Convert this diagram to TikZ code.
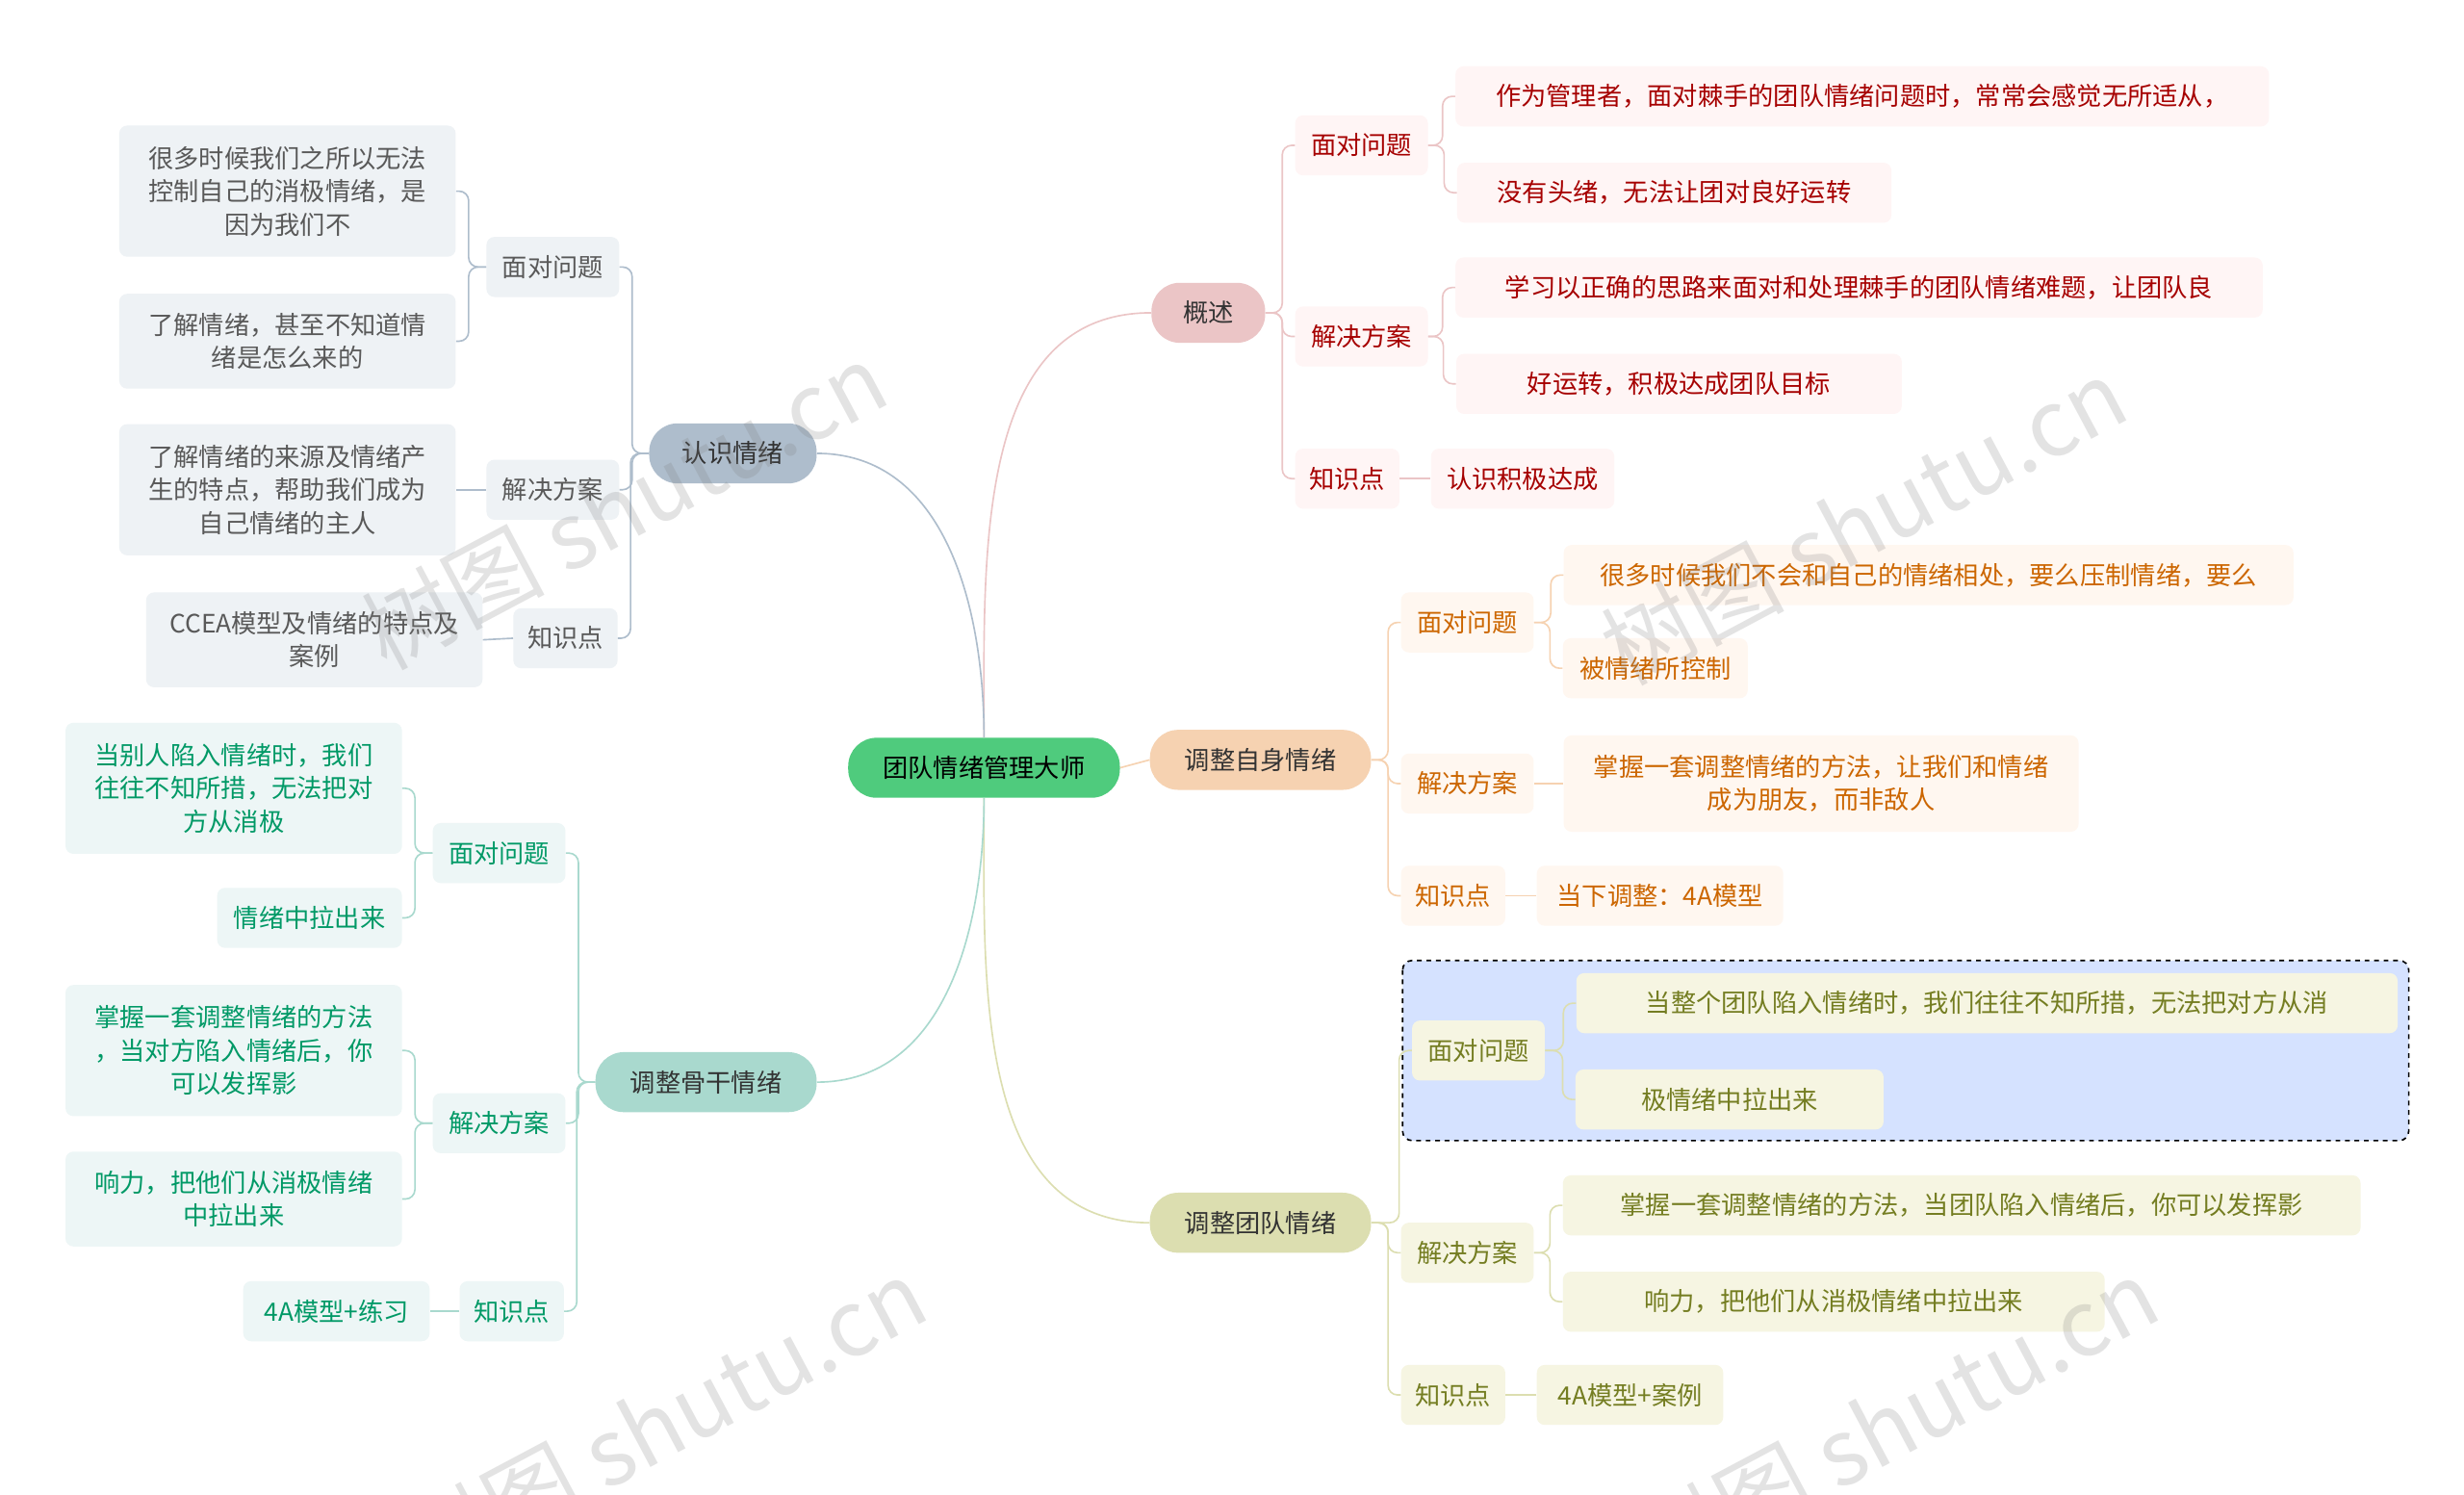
\documentclass[tikz,border=0pt]{standalone}
\usepackage{fontspec}
\setmainfont{Noto Sans CJK SC}
\definecolor{gM}{HTML}{4FCB7D}
\definecolor{rM}{HTML}{EBC5C6}
\definecolor{oM}{HTML}{F6D2B1}
\definecolor{yM}{HTML}{DCDEB0}
\definecolor{bM}{HTML}{AEBDCC}
\definecolor{tM}{HTML}{A9D9CE}
\definecolor{dashF}{HTML}{D5E2FF}
\begin{document}
\begin{tikzpicture}[x=1pt,y=-1pt,
 every node/.style={font=\fontsize{16}{21}\selectfont,inner sep=0pt,align=center,rounded corners=5},
 bx/.style={minimum width=#1},
 mainG/.style={fill=gM,rounded corners=18,minimum height=38},
 mR/.style={fill=rM,rounded corners=18,minimum height=38,text=black!80},
 mO/.style={fill=oM,rounded corners=18,minimum height=38,text=black!80},
 mY/.style={fill=yM,rounded corners=18,minimum height=38,text=black!80},
 mB/.style={fill=bM,rounded corners=18,minimum height=38,text=black!80},
 mT/.style={fill=tM,rounded corners=18,minimum height=38,text=black!80},
 sR/.style={fill=red!4,text=red!65!black,minimum height=38},
 sO/.style={fill=orange!6,text=orange!80!black,minimum height=38},
 sY/.style={fill=olive!8,text=olive!80!green!80!black,minimum height=38},
 sB/.style={fill={rgb,255:red,238;green,242;blue,245},text=black!65,minimum height=38},
 sT/.style={fill=teal!7,text=teal!80!green,minimum height=38},
 cR/.style={draw=rM,line width=1pt,rounded corners=6},
 cO/.style={draw=oM,line width=1pt,rounded corners=6},
 cY/.style={draw=yM,line width=1pt,rounded corners=6},
 cB/.style={draw=bM,line width=1pt,rounded corners=6},
 cT/.style={draw=tM,line width=1pt,rounded corners=6},
]
\useasboundingbox[fill=white] (0,0) rectangle (1560,946);
\draw[dashed,line width=1pt,fill=dashF,rounded corners=6] (888,608) rectangle (1525,722);

\node[mainG,bx=172] (c) at (623,486) {团队情绪管理大师};
% right
\node[mR,bx=72] (m1) at (765,198) {概述};
\node[sR,bx=84] (m1a) at (862,92) {面对问题};
\node[sR,bx=84] (m1b) at (862,213) {解决方案};
\node[sR,bx=66] (m1c) at (853,303) {知识点};
\node[sR,bx=515] (l1) at (1179,61) {作为管理者，面对棘手的团队情绪问题时，常常会感觉无所适从，};
\node[sR,bx=275] (l2) at (1060,122) {没有头绪，无法让团对良好运转};
\node[sR,bx=511] (l3) at (1177,182) {学习以正确的思路来面对和处理棘手的团队情绪难题，让团队良};
\node[sR,bx=282] (l4) at (1063,243) {好运转，积极达成团队目标};
\node[sR,bx=116] (l5) at (964,303) {认识积极达成};

\node[mO,bx=140] (m2) at (798,481) {调整自身情绪};
\node[sO,bx=84] (m2a) at (929,394) {面对问题};
\node[sO,bx=84] (m2b) at (929,496) {解决方案};
\node[sO,bx=66] (m2c) at (920,567) {知识点};
\node[sO,bx=462] (o1) at (1221,364) {很多时候我们不会和自己的情绪相处，要么压制情绪，要么};
\node[sO,bx=117] (o2) at (1048,423) {被情绪所控制};
\node[sO,bx=326,minimum height=61] (o3) at (1153,496) {掌握一套调整情绪的方法，让我们和情绪\\成为朋友，而非敌人};
\node[sO,bx=156] (o4) at (1051,567) {当下调整：4A模型};

\node[mY,bx=140] (m3) at (798,774) {调整团队情绪};
\node[sY,bx=84] (m3a) at (936,665) {面对问题};
\node[sY,bx=84] (m3b) at (929,793) {解决方案};
\node[sY,bx=66] (m3c) at (920,883) {知识点};
\node[sY,bx=520] (y1) at (1258,635) {当整个团队陷入情绪时，我们往往不知所措，无法把对方从消};
\node[sY,bx=195] (y2) at (1095,696) {极情绪中拉出来};
\node[sY,bx=505] (y3) at (1242,763) {掌握一套调整情绪的方法，当团队陷入情绪后，你可以发挥影};
\node[sY,bx=343] (y4) at (1161,824) {响力，把他们从消极情绪中拉出来};
\node[sY,bx=118] (y5) at (1032,883) {4A模型+案例};
% left
\node[mB,bx=106] (m4) at (464,287) {认识情绪};
\node[sB,bx=84] (m4a) at (350,169) {面对问题};
\node[sB,bx=84] (m4b) at (350,310) {解决方案};
\node[sB,bx=66] (m4c) at (358,404) {知识点};
\node[sB,bx=213,minimum height=83] (b1) at (182,121) {很多时候我们之所以无法\\控制自己的消极情绪，是\\因为我们不};
\node[sB,bx=213,minimum height=60] (b2) at (182,216) {了解情绪，甚至不知道情\\绪是怎么来的};
\node[sB,bx=213,minimum height=83] (b3) at (182,310) {了解情绪的来源及情绪产\\生的特点，帮助我们成为\\自己情绪的主人};
\node[sB,bx=213,minimum height=60] (b4) at (199,405) {CCEA模型及情绪的特点及\\案例};

\node[mT,bx=140] (m5) at (447,685) {调整骨干情绪};
\node[sT,bx=84] (m5a) at (316,540) {面对问题};
\node[sT,bx=84] (m5b) at (316,711) {解决方案};
\node[sT,bx=66] (m5c) at (324,830) {知识点};
\node[sT,bx=213,minimum height=83] (t1) at (148,499) {当别人陷入情绪时，我们\\往往不知所措，无法把对\\方从消极};
\node[sT,bx=117] (t2) at (196,581) {情绪中拉出来};
\node[sT,bx=213,minimum height=83] (t3) at (148,665) {掌握一套调整情绪的方法\\，当对方陷入情绪后，你\\可以发挥影};
\node[sT,bx=213,minimum height=60] (t4) at (148,759) {响力，把他们从消极情绪\\中拉出来};
\node[sT,bx=118] (t5) at (213,830) {4A模型+练习};

% center connectors
\draw[cR] (c.north) to[out=90,in=180] (m1.west);
\draw[cO] (c.east) -- (m2.west);
\draw[cY] (c.south) to[out=-90,in=180] (m3.west);
\draw[cB] (c.north) to[out=90,in=0] (m4.east);
\draw[cT] (c.south) to[out=-90,in=0] (m5.east);
% right brackets
\foreach \p/\k/\s in {m1/m1a/cR,m1/m1b/cR,m1/m1c/cR,m1a/l1/cR,m1a/l2/cR,m1b/l3/cR,m1b/l4/cR,
  m2/m2a/cO,m2/m2b/cO,m2/m2c/cO,m2a/o1/cO,m2a/o2/cO,
  m3/m3a/cY,m3/m3b/cY,m3/m3c/cY,m3a/y1/cY,m3a/y2/cY,m3b/y3/cY,m3b/y4/cY}
  \draw[\s] (\p.east) -| ([xshift=-8]\k.west) -- (\k.west);
\draw[cR] (m1c.east) -- (l5.west);
\draw[cO] (m2b.east) -- (o3.west);
\draw[cO] (m2c.east) -- (o4.west);
\draw[cY] (m3c.east) -- (y5.west);
% left brackets
\foreach \p/\k/\s in {m4/m4a/cB,m4/m4b/cB,m4/m4c/cB,m4a/b1/cB,m4a/b2/cB,
  m5/m5a/cT,m5/m5b/cT,m5/m5c/cT,m5a/t1/cT,m5a/t2/cT,m5b/t3/cT,m5b/t4/cT}
  \draw[\s] (\p.west) -| ([xshift=8]\k.east) -- (\k.east);
\draw[cB] (m4b.west) -- (b3.east);
\draw[cB] (m4c.west) -- (b4.east);
\draw[cT] (m5c.west) -- (t5.east);

% watermarks
\foreach \q/\x/\y in {w1/395/320,w2/1180/330,w3/420/900,w4/1200/900}
  \node[text=gray,opacity=0.22,rotate=28,font=\fontsize{58}{60}\selectfont] (\q) at (\x,\y) {树图 shutu.cn};
\end{tikzpicture}
\end{document}
